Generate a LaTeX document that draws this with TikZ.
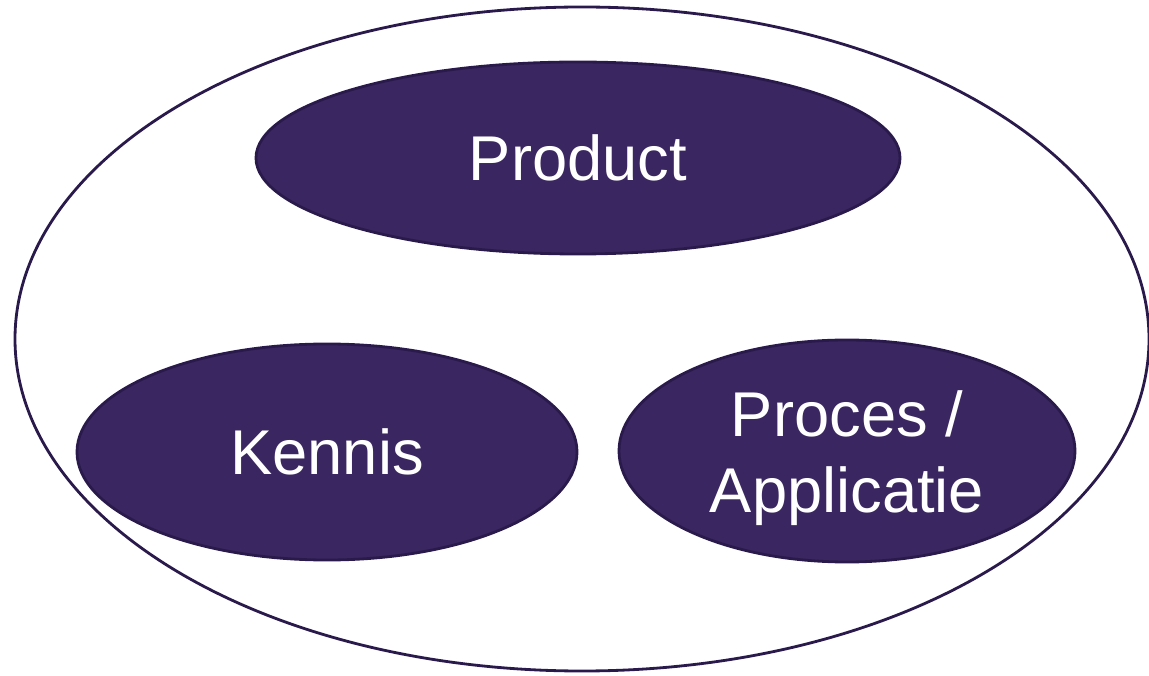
\documentclass[tikz,border=0pt]{standalone}
\usepackage{fontspec}
\setmainfont{Liberation Sans}
\usepackage{tikz}
\usetikzlibrary{shapes}
\definecolor{paars}{HTML}{3A2660}
\definecolor{paarsrand}{HTML}{2A1A4C}
\tikzset{
  blob/.style={ellipse,draw=paarsrand,line width=0.8pt,fill=paars,text=white,
    inner sep=0pt,font=\fontsize{18}{21.5}\selectfont,align=center}
}

\begin{document}
\begin{tikzpicture}
\useasboundingbox (0,0) rectangle (11.49,6.75);
\node[ellipse,draw=paarsrand,line width=0.8pt,minimum width=11.34cm,minimum height=6.64cm] (geheel) at (5.82,3.36) {};
\node[blob,minimum width=6.44cm,minimum height=1.92cm] (product) at (5.78,5.17) {Product};
\node[blob,minimum width=5.0cm,minimum height=2.16cm] (kennis) at (3.27,2.23) {Kennis};
\node[blob,minimum width=4.56cm,minimum height=2.22cm,
  label={[text=white,font=\fontsize{18}{21.5}\selectfont,align=center,yshift=-0.07cm]center:{Proces /\\Applicatie}}] (proces) at (8.47,2.24) {};
\end{tikzpicture}
\end{document}
